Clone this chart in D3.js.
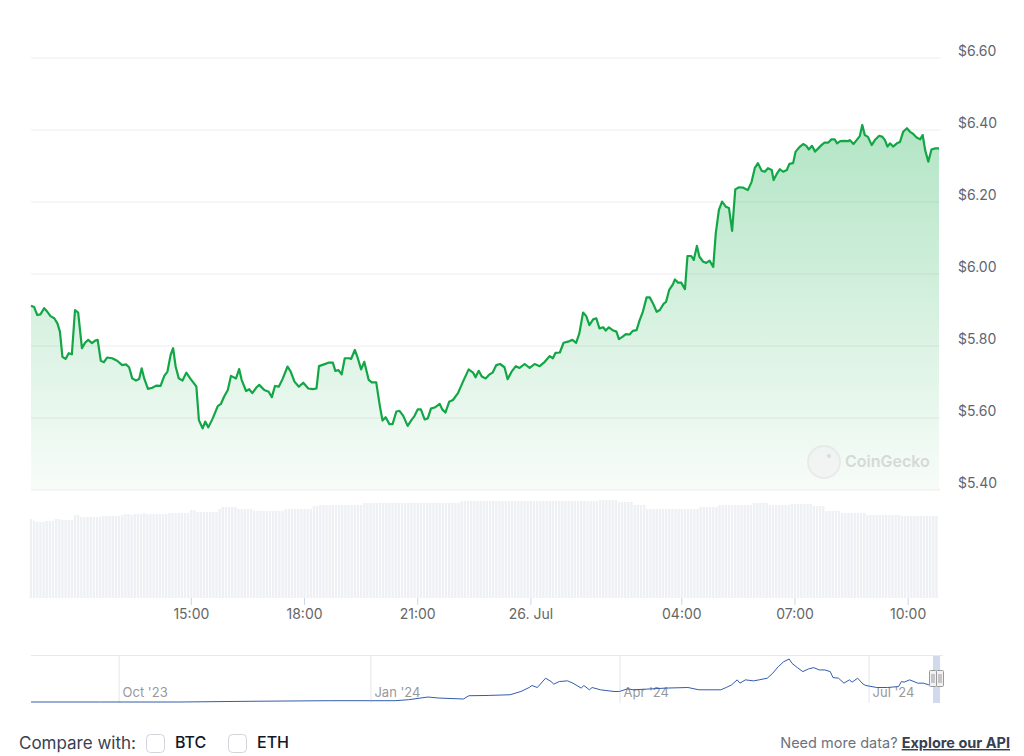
<!DOCTYPE html>
<html>
<head>
<meta charset="utf-8">
<script src="https://cdn.jsdelivr.net/npm/d3@7"></script>
<style>
  body { margin: 0; background: #fff; font-family: Inter, "Noto Sans", sans-serif; }
  svg { display: block; }
</style>
</head>
<body>
<script>
// price on 25-26 Jul 2024, time in minutes after 25 Jul 00:00
const priceTimes = [
  645, 650, 655, 660, 666, 671, 676, 682, 687, 691,
  695, 700, 705, 710, 715, 720, 726, 731, 736, 742,
  747, 751, 756, 761, 766, 774, 782, 790, 796, 801,
  806, 812, 817, 821, 825, 831, 838, 844, 851, 857,
  862, 867, 871, 875, 880, 886, 892, 899, 906, 908,
  912, 918, 922, 927, 934, 942, 947, 952, 958, 963,
  971, 976, 980, 987, 992, 997, 1003, 1008, 1016, 1023,
  1028, 1033, 1039, 1045, 1053, 1058, 1064, 1071, 1078, 1086,
  1093, 1099, 1103, 1111, 1119, 1125, 1129, 1134, 1139, 1144,
  1151, 1154, 1160, 1164, 1170, 1175, 1182, 1187, 1194, 1200,
  1204, 1209, 1215, 1220, 1226, 1231, 1237, 1244, 1250, 1255,
  1260, 1265, 1271, 1276, 1281, 1288, 1295, 1299, 1304, 1310,
  1316, 1324, 1332, 1341, 1348, 1352, 1357, 1362, 1368, 1374,
  1379, 1385, 1391, 1398, 1403, 1409, 1416, 1422, 1430, 1438,
  1446, 1454, 1462, 1470, 1475, 1479, 1486, 1492, 1499, 1506,
  1512, 1517, 1523, 1528, 1533, 1539, 1544, 1549, 1555, 1559,
  1564, 1570, 1576, 1580, 1586, 1591, 1597, 1602, 1608, 1613,
  1618, 1624, 1629, 1634, 1640, 1645, 1651, 1655, 1660, 1666,
  1669, 1674, 1679, 1685, 1689, 1695, 1699, 1704, 1708, 1714,
  1719, 1724, 1730, 1734, 1739, 1744, 1750, 1755, 1760, 1765,
  1771, 1777, 1785, 1791, 1796, 1801, 1807, 1812, 1817, 1823,
  1826, 1832, 1836, 1841, 1847, 1851, 1857, 1861, 1868, 1873,
  1878, 1882, 1887, 1892, 1897, 1902, 1907, 1913, 1918, 1923,
  1927, 1932, 1938, 1945, 1947, 1953, 1958, 1963, 1967, 1971,
  1976, 1982, 1987, 1994, 1999, 2003, 2007, 2011, 2016, 2022,
  2027, 2032, 2038, 2043, 2048, 2053, 2059, 2063, 2067, 2072,
  2077, 2083, 2089
];
const prices = [
  5.912, 5.908, 5.886, 5.888, 5.905, 5.895, 5.883, 5.877, 5.863, 5.840,
  5.770, 5.764, 5.780, 5.777, 5.900, 5.893, 5.794, 5.809, 5.817, 5.808,
  5.815, 5.817, 5.759, 5.755, 5.768, 5.766, 5.759, 5.747, 5.749, 5.741,
  5.710, 5.704, 5.708, 5.738, 5.710, 5.681, 5.684, 5.690, 5.689, 5.717,
  5.729, 5.775, 5.794, 5.743, 5.710, 5.704, 5.726, 5.708, 5.692, 5.687,
  5.594, 5.571, 5.590, 5.574, 5.599, 5.633, 5.639, 5.659, 5.678, 5.717,
  5.710, 5.736, 5.706, 5.675, 5.680, 5.669, 5.684, 5.692, 5.678, 5.673,
  5.658, 5.689, 5.687, 5.708, 5.743, 5.729, 5.701, 5.687, 5.698, 5.682,
  5.680, 5.682, 5.744, 5.749, 5.754, 5.754, 5.731, 5.733, 5.721, 5.766,
  5.766, 5.764, 5.789, 5.770, 5.735, 5.756, 5.706, 5.699, 5.699, 5.631,
  5.593, 5.602, 5.583, 5.583, 5.618, 5.620, 5.606, 5.578, 5.594, 5.606,
  5.624, 5.624, 5.596, 5.599, 5.626, 5.630, 5.639, 5.624, 5.615, 5.645,
  5.650, 5.669, 5.701, 5.735, 5.726, 5.713, 5.731, 5.715, 5.710, 5.721,
  5.726, 5.747, 5.750, 5.741, 5.708, 5.728, 5.744, 5.739, 5.750, 5.739,
  5.750, 5.744, 5.756, 5.772, 5.766, 5.781, 5.782, 5.809, 5.812, 5.817,
  5.809, 5.835, 5.893, 5.883, 5.858, 5.874, 5.877, 5.849, 5.852, 5.843,
  5.852, 5.844, 5.840, 5.819, 5.826, 5.833, 5.832, 5.842, 5.844, 5.872,
  5.895, 5.935, 5.935, 5.919, 5.895, 5.900, 5.917, 5.923, 5.956, 5.972,
  5.985, 5.976, 5.976, 5.958, 6.050, 6.050, 6.039, 6.078, 6.048, 6.034,
  6.031, 6.037, 6.020, 6.113, 6.178, 6.201, 6.187, 6.183, 6.120, 6.235,
  6.241, 6.240, 6.233, 6.256, 6.294, 6.308, 6.287, 6.284, 6.294, 6.289,
  6.261, 6.281, 6.291, 6.284, 6.289, 6.306, 6.308, 6.340, 6.354, 6.361,
  6.356, 6.346, 6.356, 6.340, 6.349, 6.358, 6.365, 6.365, 6.374, 6.374,
  6.363, 6.369, 6.370, 6.369, 6.372, 6.361, 6.372, 6.383, 6.414, 6.386,
  6.381, 6.358, 6.372, 6.384, 6.381, 6.372, 6.354, 6.363, 6.354, 6.363,
  6.367, 6.395, 6.405, 6.395, 6.389, 6.380, 6.374, 6.386, 6.344, 6.312,
  6.346, 6.349, 6.349
];

// volume bars, one every 5 minutes starting 10:45
const volumeStart = 645;
const volumeStep = 5;
const volumes = [
  79, 77, 76, 76, 76, 77, 77, 77, 79, 79,
  78, 78, 78, 78, 83, 83, 81, 81, 81, 81,
  81, 81, 81, 82, 82, 82, 82, 82, 82, 83,
  84, 84, 83, 84, 84, 84, 85, 84, 84, 84,
  84, 84, 84, 84, 85, 85, 85, 85, 85, 85,
  85, 88, 88, 86, 86, 86, 86, 86, 86, 86,
  89, 91, 91, 91, 91, 91, 89, 89, 89, 89,
  89, 87, 87, 87, 87, 87, 87, 87, 87, 87,
  87, 89, 89, 89, 89, 89, 89, 89, 89, 89,
  92, 92, 93, 93, 93, 93, 93, 93, 93, 93,
  93, 93, 93, 93, 93, 93, 95, 95, 95, 95,
  95, 95, 95, 95, 95, 95, 95, 95, 95, 95,
  95, 95, 95, 95, 95, 95, 95, 95, 95, 95,
  95, 95, 95, 95, 95, 95, 95, 97, 97, 97,
  97, 97, 97, 97, 97, 97, 97, 97, 97, 97,
  97, 97, 97, 97, 97, 97, 97, 97, 97, 97,
  97, 97, 97, 97, 97, 97, 97, 97, 97, 97,
  97, 97, 97, 97, 97, 97, 97, 97, 97, 97,
  97, 98, 98, 98, 98, 98, 98, 96, 96, 96,
  96, 96, 93, 93, 93, 93, 89, 89, 89, 89,
  89, 89, 89, 89, 89, 89, 89, 89, 89, 89,
  89, 89, 89, 91, 91, 91, 91, 91, 91, 93,
  93, 93, 93, 93, 93, 93, 93, 93, 93, 93,
  95, 95, 95, 95, 95, 93, 93, 93, 93, 93,
  93, 93, 94, 94, 94, 94, 94, 94, 94, 92,
  92, 92, 92, 87, 87, 87, 87, 87, 85, 85,
  85, 85, 85, 85, 85, 85, 83, 83, 83, 83,
  83, 83, 83, 83, 83, 83, 83, 82, 82, 82,
  82, 82, 82, 82, 82, 82, 82, 82, 82
];

const priceTicks = [5.4, 5.6, 5.8, 6.0, 6.2, 6.4, 6.6];
const timeTicks = [900, 1080, 1260, 1440, 1680, 1860, 2040];
const timeTickLabels = ["15:00", "18:00", "21:00", "26. Jul", "04:00", "07:00", "10:00"];

// navigator: full history
const navDates = [
  "2023-08-30", "2023-09-24", "2023-10-23", "2023-11-22", "2023-12-17", "2024-01-01", "2024-01-10", "2024-01-15",
  "2024-01-22", "2024-01-26", "2024-02-04", "2024-02-06", "2024-02-13", "2024-02-21", "2024-02-25", "2024-02-28",
  "2024-02-29", "2024-03-02", "2024-03-05", "2024-03-07", "2024-03-08", "2024-03-10", "2024-03-13", "2024-03-15",
  "2024-03-18", "2024-03-19", "2024-03-21", "2024-03-22", "2024-03-25", "2024-03-30", "2024-04-01", "2024-04-04",
  "2024-04-06", "2024-04-11", "2024-04-18", "2024-04-26", "2024-04-30", "2024-05-08", "2024-05-10", "2024-05-12",
  "2024-05-14", "2024-05-15", "2024-05-17", "2024-05-20", "2024-05-22", "2024-05-25", "2024-05-27", "2024-05-29",
  "2024-05-30", "2024-05-31", "2024-06-02", "2024-06-03", "2024-06-05", "2024-06-07", "2024-06-09", "2024-06-11",
  "2024-06-13", "2024-06-15", "2024-06-17", "2024-06-18", "2024-06-20", "2024-06-22", "2024-06-24", "2024-06-25",
  "2024-06-27", "2024-06-29", "2024-06-30", "2024-07-04", "2024-07-08", "2024-07-12", "2024-07-13", "2024-07-14",
  "2024-07-16", "2024-07-19", "2024-07-21", "2024-07-23", "2024-07-25"
];
const navPrices = [
  0.20, 0.20, 0.20, 0.48, 0.65, 0.65, 0.65, 1.00,
  1.93, 1.58, 1.24, 2.38, 2.48, 2.72, 3.86, 5.24,
  5.94, 5.24, 8.49, 7.32, 6.42, 7.32, 7.56, 6.76,
  5.04, 5.94, 4.45, 5.24, 4.45, 3.86, 3.86, 4.80,
  4.45, 4.69, 5.04, 5.24, 4.45, 4.45, 5.24, 6.18,
  7.90, 6.76, 7.90, 7.56, 7.90, 8.49, 10.22, 12.50,
  13.33, 14.23, 15.16, 13.67, 12.15, 10.77, 11.70, 12.15,
  11.36, 11.36, 10.77, 8.70, 8.49, 6.76, 7.90, 7.11,
  8.49, 6.42, 5.94, 5.24, 5.24, 5.59, 7.32, 7.11,
  7.90, 6.76, 6.76, 6.18, 6.35
];
const navTicks = ["2023-10-01", "2024-01-01", "2024-04-01", "2024-07-01"];
const navTickLabels = ["Oct '23", "Jan '24", "Apr '24", "Jul '24"];

// ---------------------------------------------------------------
const day0 = new Date(2024, 6, 25);
const toDate = m => new Date(day0.getTime() + m * 60000);
const parseDay = d3.timeParse("%Y-%m-%d");

const series = priceTimes.map((m, i) => ({ date: toDate(m), value: prices[i] }));

const svg = d3.select("body").append("svg")
  .attr("width", 1024)
  .attr("height", 756);

const green = "#13a646";

const x = d3.scaleTime()
  .domain(d3.extent(series, d => d.date))
  .range([31, 939]);
const y = d3.scaleLinear().domain([5.4, 6.6]).range([490, 58]);
const yVol = d3.scaleLinear().domain([0, 100]).range([598, 498]);

// gradient for area
const defs = svg.append("defs");
const grad = defs.append("linearGradient")
  .attr("id", "areaFill")
  .attr("gradientUnits", "userSpaceOnUse")
  .attr("x1", 0).attr("x2", 0)
  .attr("y1", y(d3.max(prices))).attr("y2", y(5.4));
grad.append("stop").attr("offset", 0).attr("stop-color", "#00a83e").attr("stop-opacity", 0.3);
grad.append("stop").attr("offset", 1).attr("stop-color", "#00a83e").attr("stop-opacity", 0.03);

// grid lines
svg.append("g")
  .selectAll("line")
  .data(priceTicks)
  .join("line")
  .attr("x1", 31).attr("x2", 940)
  .attr("y1", d => y(d)).attr("y2", d => y(d))
  .attr("stroke", "#ededed")
  .attr("stroke-width", 1);

// y labels on the right
svg.append("g")
  .selectAll("text")
  .data(priceTicks)
  .join("text")
  .attr("x", 958)
  .attr("y", d => y(d) - 6)
  .attr("dominant-baseline", "middle")
  .attr("font-size", 14)
  .attr("fill", "#5e6673")
  .text(d => "$" + d.toFixed(2));

// volume bars
const step = x(toDate(volumeStart + volumeStep)) - x(toDate(volumeStart));
svg.append("g")
  .selectAll("rect")
  .data(volumes)
  .join("rect")
  .attr("x", (d, i) => x(toDate(volumeStart + i * volumeStep)) - step / 2 + 0.4)
  .attr("width", step - 0.8)
  .attr("y", d => yVol(d))
  .attr("height", d => yVol(0) - yVol(d))
  .attr("fill", "#eef0f4");

// area + line
const area = d3.area()
  .x(d => x(d.date))
  .y0(y(5.4))
  .y1(d => y(d.value));
const line = d3.line()
  .x(d => x(d.date))
  .y(d => y(d.value));

svg.append("path")
  .datum(series)
  .attr("fill", "url(#areaFill)")
  .attr("d", area);

svg.append("path")
  .datum(series)
  .attr("fill", "none")
  .attr("stroke", green)
  .attr("stroke-width", 2.2)
  .attr("stroke-linejoin", "round")
  .attr("d", line);

// x axis ticks + labels
const xt = svg.append("g");
xt.selectAll("line")
  .data(timeTicks)
  .join("line")
  .attr("x1", d => x(toDate(d))).attr("x2", d => x(toDate(d)))
  .attr("y1", 598).attr("y2", 605)
  .attr("stroke", "#ccd6eb");
xt.selectAll("text")
  .data(timeTicks)
  .join("text")
  .attr("x", d => x(toDate(d)))
  .attr("y", 615)
  .attr("text-anchor", "middle")
  .attr("dominant-baseline", "middle")
  .attr("font-size", 14)
  .attr("fill", "#666")
  .text((d, i) => timeTickLabels[i]);

// watermark
const wm = svg.append("g").attr("opacity", 0.6);
wm.append("circle").attr("cx", 824).attr("cy", 462).attr("r", 16)
  .attr("fill", "#f1f1f1").attr("stroke", "#e2e2e2").attr("stroke-width", 2);
wm.append("circle").attr("cx", 829).attr("cy", 456).attr("r", 2.2).attr("fill", "#cfcfcf");
wm.append("text")
  .attr("x", 845).attr("y", 463)
  .attr("dominant-baseline", "middle")
  .attr("font-size", 16)
  .attr("font-weight", 600)
  .attr("fill", "#c4c4c4")
  .text("CoinGecko");

// navigator
const navSeries = navDates.map((d, i) => ({ date: parseDay(d), value: navPrices[i] }));
const xNav = d3.scaleTime()
  .domain([parseDay("2023-08-30"), parseDay("2024-07-26")])
  .range([31, 937]);
const yNav = d3.scaleLinear()
  .domain(d3.extent(navPrices))
  .range([702, 659]);

const nav = svg.append("g");
nav.append("line")
  .attr("x1", 31).attr("x2", 943).attr("y1", 655.5).attr("y2", 655.5)
  .attr("stroke", "#e3e8f1");
nav.selectAll("line.grid")
  .data(navTicks)
  .join("line")
  .attr("class", "grid")
  .attr("x1", d => xNav(parseDay(d)) + 0.5).attr("x2", d => xNav(parseDay(d)) + 0.5)
  .attr("y1", 656).attr("y2", 703)
  .attr("stroke", "#e6e6e6");
nav.selectAll("text")
  .data(navTicks)
  .join("text")
  .attr("x", d => xNav(parseDay(d)) + 4)
  .attr("y", 693)
  .attr("dominant-baseline", "middle")
  .attr("font-size", 13)
  .attr("fill", "#999")
  .text((d, i) => navTickLabels[i]);
nav.append("path")
  .datum(navSeries)
  .attr("fill", "none")
  .attr("stroke", "#335cad")
  .attr("stroke-width", 1)
  .attr("d", d3.line().x(d => xNav(d.date)).y(d => yNav(d.value)));

// selected range + handles
nav.append("rect")
  .attr("x", 933).attr("y", 656).attr("width", 7).attr("height", 47)
  .attr("fill", "rgba(102,133,194,0.3)");
[929.5, 936.5].forEach(hx => {
  nav.append("rect")
    .attr("x", hx).attr("y", 670.5).attr("width", 7).attr("height", 16).attr("rx", 1)
    .attr("fill", "#f2f2f2").attr("stroke", "#999");
  [hx + 2.5, hx + 4.5].forEach(lx => {
    nav.append("line").attr("x1", lx).attr("x2", lx).attr("y1", 674).attr("y2", 683)
      .attr("stroke", "#999");
  });
});

// footer
const foot = svg.append("g");
foot.append("text").attr("x", 19).attr("y", 744).attr("dominant-baseline", "middle")
  .attr("font-size", 17).attr("fill", "#374151").text("Compare with:");
foot.append("rect").attr("x", 146.5).attr("y", 734.5).attr("width", 18).attr("height", 18).attr("rx", 4)
  .attr("fill", "#fff").attr("stroke", "#d1d5db");
foot.append("text").attr("x", 175).attr("y", 744).attr("dominant-baseline", "middle")
  .attr("font-size", 16).attr("font-weight", 500).attr("fill", "#111827").text("BTC");
foot.append("rect").attr("x", 228.5).attr("y", 734.5).attr("width", 18).attr("height", 18).attr("rx", 4)
  .attr("fill", "#fff").attr("stroke", "#d1d5db");
foot.append("text").attr("x", 257).attr("y", 744).attr("dominant-baseline", "middle")
  .attr("font-size", 16).attr("font-weight", 500).attr("fill", "#111827").text("ETH");
foot.append("text").attr("x", 1010).attr("y", 744).attr("dominant-baseline", "middle")
  .attr("text-anchor", "end").attr("font-size", 14.5)
  .html('<tspan fill="#6b7280">Need more data? </tspan><tspan fill="#374151" font-weight="700" text-decoration="underline">Explore our API</tspan>');
</script>
</body>
</html>
